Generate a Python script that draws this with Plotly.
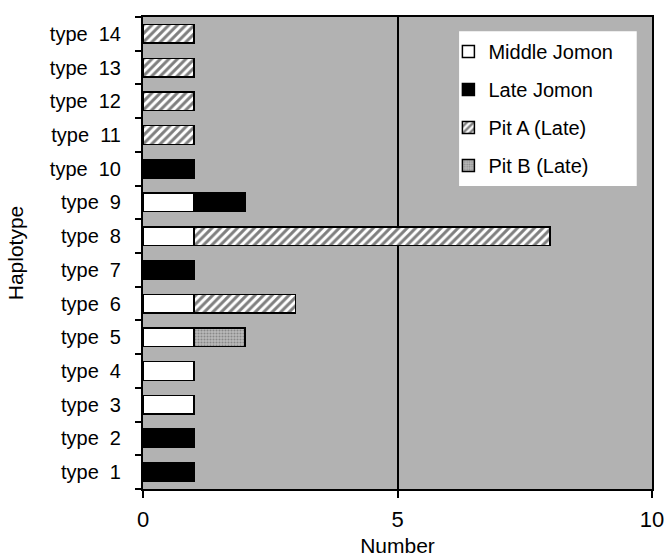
import plotly.graph_objects as go

types = ["type\u00a0\u00a01", "type\u00a0\u00a02", "type\u00a0\u00a03", "type\u00a0\u00a04", "type\u00a0\u00a05",
         "type\u00a0\u00a06", "type\u00a0\u00a07", "type\u00a0\u00a08", "type\u00a0\u00a09", "type\u00a0\u00a010",
         "type\u00a0\u00a011", "type\u00a0\u00a012", "type\u00a0\u00a013", "type\u00a0\u00a014"]
middle_jomon = [0, 0, 1, 1, 1, 1, 0, 1, 1, 0, 0, 0, 0, 0]
late_jomon   = [1, 1, 0, 0, 0, 0, 1, 0, 1, 1, 0, 0, 0, 0]
pit_a        = [0, 0, 0, 0, 0, 2, 0, 7, 0, 0, 1, 1, 1, 1]
pit_b        = [0, 0, 0, 0, 1, 0, 0, 0, 0, 0, 0, 0, 0, 0]

FONT = "Liberation Sans, Arial, sans-serif"
line = dict(color="black", width=1.5)

fig = go.Figure()
fig.add_trace(go.Bar(y=types, x=middle_jomon, orientation="h", name="Middle Jomon",
                     legendgroup="a", marker=dict(color="white", line=line)))
fig.add_trace(go.Bar(y=types, x=late_jomon, orientation="h", name="Late Jomon",
                     legendgroup="b", marker=dict(color="black", line=line)))
fig.add_trace(go.Bar(y=types, x=pit_a, orientation="h", name="Pit A (Late)",
                     legendgroup="c",
                     marker=dict(color="white", line=line,
                                 pattern=dict(shape="/", fgcolor="black", bgcolor="white",
                                              size=6, solidity=0.5))))
fig.add_trace(go.Bar(y=types, x=pit_b, orientation="h", name="Pit B (Late)",
                     legendgroup="d",
                     marker=dict(color="#aaaaaa", line=line,
                                 pattern=dict(shape=".", fgcolor="#555555", bgcolor="#bbbbbb",
                                              size=3, solidity=0.4))))

# white legend panel (paper coordinates relative to plot area)
fig.add_shape(type="rect", xref="paper", yref="paper",
              x0=0.621, x1=0.970, y0=0.642, y1=0.970,
              fillcolor="white", line=dict(width=0), layer="below")

fig.update_layout(
    barmode="stack",
    bargap=0.45,
    width=666, height=557,
    margin=dict(l=143, r=14, t=17, b=68),
    paper_bgcolor="white",
    plot_bgcolor="#b2b2b2",
    font=dict(family=FONT, color="black"),
    showlegend=True,
    legend=dict(x=0.60, y=0.968, xanchor="left", yanchor="top",
                bgcolor="rgba(0,0,0,0)", borderwidth=0, traceorder="grouped",
                font=dict(size=20, family=FONT),
                itemwidth=30, tracegroupgap=9),
    xaxis=dict(range=[0, 10], tickvals=[0, 5, 10], ticktext=["0", "5", "10"],
               showgrid=True, gridcolor="black", gridwidth=1.5,
               showline=True, linecolor="black", linewidth=2, mirror=True,
               ticks="outside", ticklen=7, tickwidth=2, tickcolor="black",
               tickfont=dict(size=22, family=FONT), automargin=False,
               ticklabelstandoff=3,
               title=dict(text="Number", font=dict(size=21, family=FONT), standoff=11),
               zeroline=False, layer="above traces"),
    yaxis=dict(type="category", showgrid=False,
               showline=True, linecolor="black", linewidth=2, mirror=True,
               ticks="outside", ticklen=6, tickwidth=2, tickcolor="black",
               tickson="boundaries", automargin=False, ticklabelstandoff=16,
               tickfont=dict(size=20, family=FONT),
               title=dict(text="Haplotype", font=dict(size=21, family=FONT), standoff=20)),
)

fig.write_html("out.html", config={"displayModeBar": False},
               post_script="document.body.style.margin='0';document.body.style.overflow='hidden';")
